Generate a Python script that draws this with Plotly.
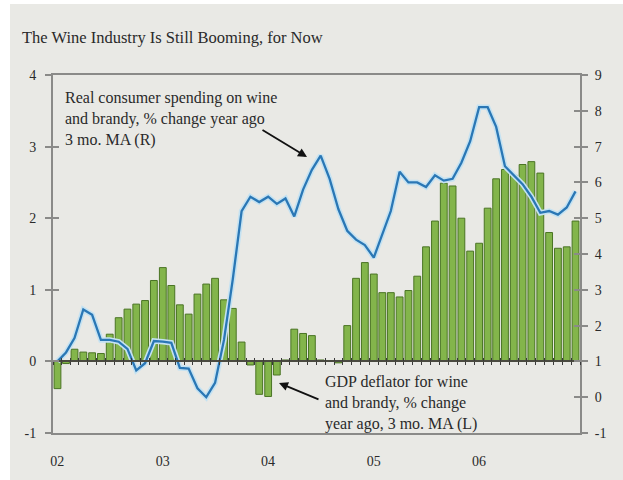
import plotly.graph_objects as go
import pandas as pd

months = pd.date_range("2002-01-01", periods=60, freq="MS").strftime("%Y-%m-%d").tolist()

# GDP deflator for wine and brandy, % change year ago, 3 mo. MA (left axis)
gdp_deflator = [
    -0.38, -0.03, 0.17, 0.13, 0.12, 0.11, 0.38, 0.61, 0.73, 0.80, 0.85, 1.13,
    1.31, 1.06, 0.79, 0.66, 0.94, 1.08, 1.16, 0.86, 0.74, 0.27, -0.05, -0.46,
    -0.49, -0.19, 0.02, 0.45, 0.39, 0.36, 0.02, 0.01, -0.02, 0.50, 1.16, 1.38,
    1.22, 0.96, 0.96, 0.90, 0.99, 1.19, 1.60, 1.96, 2.49, 2.45, 2.00, 1.54,
    1.65, 2.14, 2.55, 2.68, 2.60, 2.75, 2.79, 2.63, 1.80, 1.58, 1.60, 1.96,
]

# Real consumer spending on wine and brandy, % change year ago, 3 mo. MA (right axis)
real_spending = [
    1.00, 1.25, 1.65, 2.45, 2.30, 1.60, 1.60, 1.55, 1.35, 0.75, 0.95, 1.57,
    1.55, 1.52, 0.82, 0.80, 0.25, 0.00, 0.40, 1.60, 3.30, 5.20, 5.60, 5.45,
    5.60, 5.40, 5.55, 5.05, 5.80, 6.35, 6.75, 6.10, 5.25, 4.65, 4.40, 4.25,
    3.90, 4.55, 5.20, 6.30, 6.00, 6.00, 5.87, 6.20, 6.05, 6.10, 6.55, 7.15,
    8.10, 8.10, 7.55, 6.45, 6.20, 5.95, 5.60, 5.15, 5.20, 5.10, 5.30, 5.75,
]

year_tick_vals = ["2002-01-16", "2003-01-16", "2004-01-16", "2005-01-16", "2006-01-16"]
year_tick_text = ["02", "03", "04", "05", "06"]
left_ticks = [-1, 0, 1, 2, 3, 4]
left_tick_text = ["-1", "0", "1", "2", "3", "4"]
right_ticks = [-1, 0, 1, 2, 3, 4, 5, 6, 7, 8, 9]
right_tick_text = ["-1", "0", "1", "2", "3", "4", "5", "6", "7", "8", "9"]

title_text = "The Wine Industry Is Still Booming, for Now"
label_spending = "Real consumer spending on wine<br>and brandy, % change year ago<br>3 mo. MA (R)"
label_deflator = "GDP deflator for wine<br>and brandy, % change<br>year ago, 3 mo. MA (L)"

BG = "rgb(233,233,229)"
FRAME = "#8a8a88"
TXT = "#2a2a2a"
SERIF = "Liberation Serif, Times New Roman, serif"
xrange = ["2002-01-01", "2007-01-01"]

fig = go.Figure()

fig.add_trace(go.Bar(
    x=months, y=gdp_deflator, xperiod="M1", xperiodalignment="middle",
    marker=dict(color="#83b54b", line=dict(color="#4a7424", width=1)),
    showlegend=False, hoverinfo="skip",
))
fig.add_trace(go.Scatter(
    x=months, y=real_spending, xperiod="M1", xperiodalignment="middle",
    yaxis="y2", mode="lines", line=dict(color="#c4e2f2", width=5.5),
    showlegend=False, hoverinfo="skip",
))
fig.add_trace(go.Scatter(
    x=months, y=real_spending, xperiod="M1", xperiodalignment="middle",
    yaxis="y2", mode="lines", line=dict(color="#2a77b5", width=2.3),
    showlegend=False, hoverinfo="skip",
))
# invisible helpers so the overlay axes (zero-line month ticks, inside y ticks) render
for xa, ya in [("x2", "y"), ("x3", "y"), ("x", "y3"), ("x", "y4")]:
    fig.add_trace(go.Scatter(
        x=months, y=gdp_deflator, xaxis=xa, yaxis=ya, mode="markers",
        marker=dict(opacity=0), showlegend=False, hoverinfo="skip",
    ))

zero_pos = (0 - left_ticks[0]) / (left_ticks[-1] - left_ticks[0])


def px(xp):
    return (xp - 53) / 527


def py(yp):
    return (433 - yp) / 358


fig.update_layout(
    width=623, height=480,
    margin=dict(l=53, r=43, t=75, b=47),
    paper_bgcolor="white", plot_bgcolor=BG,
    bargap=0.2,
    font=dict(family=SERIF, color=TXT),
    title=dict(text=title_text, x=22 / 623, xanchor="left", y=1 - 37 / 480, yanchor="middle",
               font=dict(family=SERIF, size=16.5, color=TXT)),
    shapes=[dict(type="rect", xref="paper", yref="paper", x0=px(10), x1=px(623),
                 y0=py(480), y1=py(4), fillcolor=BG, line=dict(width=0), layer="below")],
    xaxis=dict(
        range=xrange, type="date", tickmode="array", tickvals=year_tick_vals, ticktext=year_tick_text,
        ticks="", showgrid=False, zeroline=False,
        showline=True, linecolor=FRAME, linewidth=2, mirror=True,
        tickfont=dict(size=14, color=TXT), ticklabelstandoff=14,
    ),
    xaxis2=dict(
        range=xrange, type="date", overlaying="x", anchor="free", position=zero_pos,
        tick0="2002-01-01", dtick="M1", ticks="outside", ticklen=3, tickwidth=1,
        tickcolor="#3a3a3a", showticklabels=False, showgrid=False, zeroline=False,
        showline=True, linecolor="#4a4a40", linewidth=1.5,
    ),
    xaxis3=dict(
        range=xrange, type="date", overlaying="x", anchor="free", position=zero_pos,
        tick0="2002-01-01", dtick="M1", ticks="inside", ticklen=3, tickwidth=1,
        tickcolor="#3a3a3a", showticklabels=False, showgrid=False, zeroline=False,
        showline=False,
    ),
    yaxis=dict(
        range=[left_ticks[0], left_ticks[-1]], tickmode="array", tickvals=left_ticks,
        ticktext=left_tick_text,
        ticks="outside", ticklen=6, tickwidth=1.5, tickcolor=FRAME,
        showgrid=False, zeroline=False, showline=True, linecolor=FRAME, linewidth=2,
        tickfont=dict(size=14, color=TXT), ticklabelstandoff=6,
    ),
    yaxis2=dict(
        range=[right_ticks[0], right_ticks[-1]], tickmode="array", tickvals=right_ticks,
        ticktext=right_tick_text,
        overlaying="y", side="right", anchor="x",
        ticks="outside", ticklen=6, tickwidth=1.5, tickcolor=FRAME,
        showgrid=False, zeroline=False, showline=True, linecolor=FRAME, linewidth=2,
        tickfont=dict(size=14, color=TXT), ticklabelstandoff=4,
    ),
    yaxis3=dict(
        range=[left_ticks[0], left_ticks[-1]], tickmode="array", tickvals=left_ticks,
        overlaying="y", side="left", anchor="x",
        ticks="inside", ticklen=6, tickwidth=1.5, tickcolor=FRAME,
        showticklabels=False, showgrid=False, zeroline=False, showline=False,
    ),
    yaxis4=dict(
        range=[right_ticks[0], right_ticks[-1]], tickmode="array", tickvals=right_ticks,
        overlaying="y", side="right", anchor="x",
        ticks="inside", ticklen=6, tickwidth=1.5, tickcolor=FRAME,
        showticklabels=False, showgrid=False, zeroline=False, showline=False,
    ),
)

fig.add_annotation(
    text=label_spending, xref="paper", yref="paper", x=px(63), y=py(87),
    xanchor="left", yanchor="top", align="left", showarrow=False,
    font=dict(family=SERIF, size=16, color=TXT),
)
fig.add_annotation(
    text=label_deflator, xref="paper", yref="paper", x=px(323), y=py(371),
    xanchor="left", yanchor="top", align="left", showarrow=False,
    font=dict(family=SERIF, size=16, color=TXT),
)
fig.add_annotation(
    text="", xref="paper", yref="paper", x=px(307), y=py(157), ax=-46, ay=-28,
    showarrow=True, arrowhead=2, arrowsize=1, arrowwidth=1.8, arrowcolor="#111",
)
fig.add_annotation(
    text="", xref="paper", yref="paper", x=px(279), y=py(383), ax=41, ay=17,
    showarrow=True, arrowhead=2, arrowsize=1, arrowwidth=1.8, arrowcolor="#111",
)

fig.write_html("out.html", config={"displayModeBar": False},
               post_script="document.body.style.margin='0';")
